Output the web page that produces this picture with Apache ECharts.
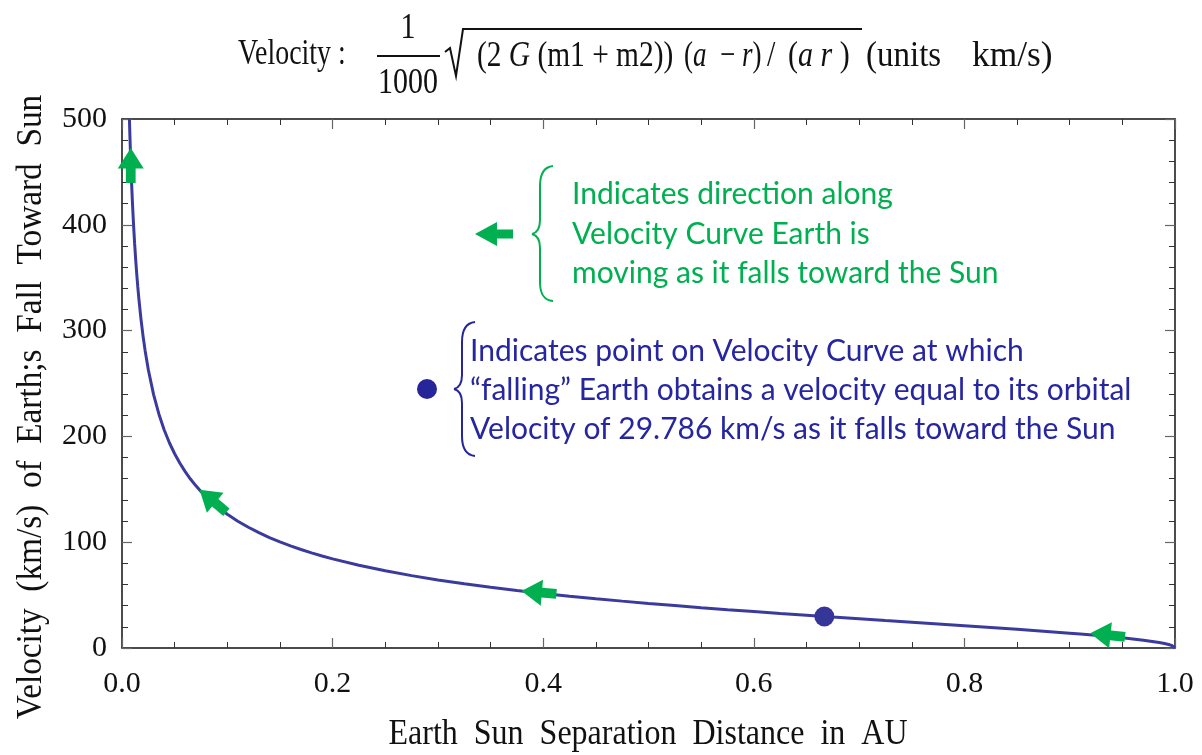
<!DOCTYPE html>
<html>
<head>
<meta charset="utf-8">
<script src="https://cdn.jsdelivr.net/npm/echarts@6/dist/echarts.min.js"></script>
<style>html,body{margin:0;padding:0;background:#fff;}#c{width:1202px;height:755px;}</style>
</head>
<body>
<div id="c"></div>
<script>
// Separation distance r (AU) and velocity (km/s)
const distanceAU = [0.00705,0.0075,0.008,0.0085,0.009,0.010,0.011,0.012,0.013,0.014,0.015,0.016,0.018,0.020,0.022,0.025,0.030,0.035,0.040,0.045,0.050,0.055,0.060,0.065,0.070,0.075,0.080,0.090,0.100,0.110,0.120,0.130,0.140,0.150,0.160,0.170,0.180,0.190,0.200,0.225,0.250,0.275,0.300,0.325,0.350,0.375,0.400,0.425,0.450,0.475,0.500,0.525,0.550,0.575,0.600,0.625,0.650,0.675,0.700,0.725,0.750,0.775,0.800,0.825,0.850,0.875,0.900,0.910,0.930,0.950,0.960,0.970,0.980,0.985,0.990,0.995,0.9975,0.999,1.000];
const velocityKms = [500,484.5,469.0,454.9,442.0,419.1,399.4,382.2,367.0,353.5,341.3,330.3,311.1,294.8,280.8,263.0,239.5,221.2,206.3,194.0,183.6,174.6,166.7,159.7,153.5,147.9,142.8,133.9,126.4,119.8,114.1,109.0,104.4,100.3,96.5,93.1,89.9,87.0,84.2,78.2,73.0,68.4,64.3,60.7,57.4,54.4,51.6,49.0,46.6,44.3,42.1,40.1,38.1,36.2,34.4,32.6,30.9,29.2,27.6,25.9,24.3,22.7,21.1,19.4,17.7,15.9,14.0,13.2,11.6,9.7,8.6,7.4,6.0,5.2,4.2,3.0,2.1,1.3,0];
// Orbital velocity point
const orbitalPoint = [0.667, 29.786];
// Direction arrows along the curve: [r, v, rotation (deg, ccw from up)]
const arrowPoints = [[0.0083,456,0],[0.0864,139,50],[0.396,52.5,85],[0.936,12.3,84]];
const xTicks = [0,0.2,0.4,0.6,0.8,1.0];
const yTicks = [0,100,200,300,400,500];

const GREEN = '#00b050';
const BLUE_TXT = '#2626a0';
const BLUE_MARK = '#26269a';
const CURVE = '#3b3b9e';
const serif = '"Liberation Serif","Times New Roman",serif';
const sans = 'Lato,"Open Sans",sans-serif';

const chart = echarts.init(document.getElementById('c'));
const curve = distanceAU.map((r,i)=>[r, velocityKms[i]]);
const arrowPath = 'path://M12,0 L24,21 L16.5,21 L16.5,36 L7.5,36 L7.5,21 L0,21 Z';

function axisCommon(showLabel, isX) {
  return {
    type: 'value',
    min: isX ? xTicks[0] : yTicks[0],
    max: isX ? xTicks[xTicks.length-1] : yTicks[yTicks.length-1],
    interval: isX ? 0.2 : 100,
    axisLine: {show: true, onZero: false, lineStyle: {color: '#111', width: 1.5}},
    axisTick: {show: true, inside: true, length: 10, lineStyle: {color: '#666', width: 1.2}},
    minorTick: {show: true, splitNumber: isX ? 4 : 5, length: 6, lineStyle: {color: '#333', width: 1}},
    splitLine: {show: false},
    axisLabel: {
      show: showLabel,
      color: '#111',
      fontFamily: serif,
      fontSize: 30,
      margin: isX ? 21 : 15,
      formatter: isX ? (v => v.toFixed(1)) : (v => String(v))
    }
  };
}

function serifText(txt, x, y, size, opts) {
  opts = opts || {};
  return {
    type: 'text', x: x, y: y,
    scaleX: opts.sx || 1, scaleY: opts.sy || 1.2,
    rotation: opts.rot || 0,
    style: {
      text: txt, font: (opts.italic ? 'italic ' : '') + size + 'px ' + serif, fill: '#111',
      align: opts.align || 'left', verticalAlign: 'middle',
      rich: opts.rich
    }
  };
}
const richI = {i: {fontStyle: 'italic', fontFamily: serif, fontSize: 30, fill: '#111'}};

const option = {
  animation: false,
  backgroundColor: '#fff',
  grid: {left: 122, right: 27, top: 119, bottom: 107},
  xAxis: [
    Object.assign(axisCommon(true, true), {position: 'bottom'}),
    Object.assign(axisCommon(false, true), {position: 'top'})
  ],
  yAxis: [
    Object.assign(axisCommon(true, false), {position: 'left'}),
    Object.assign(axisCommon(false, false), {position: 'right'})
  ],
  series: [
    {
      type: 'line',
      data: curve,
      showSymbol: false,
      smooth: false,
      lineStyle: {color: CURVE, width: 3},
      z: 2
    },
    {
      type: 'scatter',
      data: arrowPoints.map(p => ({value: [p[0], p[1]], symbolRotate: p[2]})),
      symbol: arrowPath,
      symbolSize: [26, 35],
      symbolKeepAspect: false,
      itemStyle: {color: GREEN, opacity: 1},
      z: 4
    },
    {
      type: 'scatter',
      data: [orbitalPoint],
      symbol: 'circle',
      symbolSize: 20,
      itemStyle: {color: '#35359a', opacity: 1},
      z: 5
    }
  ],
  graphic: [
    // Title
    serifText('Velocity :', 238, 55, 30, {sx: 0.93}),
    serifText('1', 408, 29, 30, {align: 'center'}),
    {type: 'line', shape: {x1: 377, y1: 56, x2: 440, y2: 56}, style: {stroke: '#111', lineWidth: 2}},
    serifText('1000', 408, 84, 30, {align: 'center'}),
    {type: 'polyline', shape: {points: [[445,52],[450,48],[456,76],[463,29],[862,29]]}, style: {stroke: '#111', lineWidth: 2, fill: null}},
    serifText('(2 {i|G} (m1 + m2))', 477, 57, 30, {sx: 0.98, rich: richI}),
    serifText('({i|a}  \u2212 {i|r})', 684, 57, 30, {sx: 0.9, rich: richI}),
    serifText('/', 767, 57, 30, {}),
    serifText('({i|a} {i|r} )', 788, 57, 30, {sx: 1.0, rich: richI}),
    serifText('(units', 866, 57, 30, {sx: 1.1}),
    serifText('km/s)', 972, 57, 30, {sx: 1.18}),
    // Axis titles
    serifText('Earth  Sun  Separation  Distance  in  AU', 648, 735, 32, {align: 'center', sy: 1.12}),
    serifText('Velocity  (km/s)  of  Earth;s  Fall  Toward  Sun', 32, 407, 32, {align: 'center', sx: 1.04, sy: 1.12, rot: Math.PI/2}),
    // Green legend arrow
    {type: 'polygon', shape: {points: [[475,234],[497,222],[497,229.5],[513,229.5],[513,238.5],[497,238.5],[497,246]]}, style: {fill: GREEN}},
    // Green brace
    {type: 'group', children: [
      {type: 'bezierCurve', shape: {x1: 553, y1: 166, cpx1: 543, cpy1: 167, cpx2: 540, cpy2: 175, x2: 540, y2: 186}, style: {stroke: GREEN, lineWidth: 2, fill: null}},
      {type: 'line', shape: {x1: 540, y1: 186, x2: 540, y2: 220}, style: {stroke: GREEN, lineWidth: 2}},
      {type: 'bezierCurve', shape: {x1: 540, y1: 220, cpx1: 540, cpy1: 229, cpx2: 536, cpy2: 233, x2: 532, y2: 234}, style: {stroke: GREEN, lineWidth: 2, fill: null}},
      {type: 'bezierCurve', shape: {x1: 532, y1: 234, cpx1: 536, cpy1: 235, cpx2: 540, cpy2: 239, x2: 540, y2: 248}, style: {stroke: GREEN, lineWidth: 2, fill: null}},
      {type: 'line', shape: {x1: 540, y1: 248, x2: 540, y2: 282}, style: {stroke: GREEN, lineWidth: 2}},
      {type: 'bezierCurve', shape: {x1: 540, y1: 282, cpx1: 540, cpy1: 293, cpx2: 543, cpy2: 300, x2: 553, y2: 301}, style: {stroke: GREEN, lineWidth: 2, fill: null}}
    ]},
    {type: 'text', x: 572, y: 194, style: {text: 'Indicates direction along', font: '30px ' + sans, fill: GREEN, verticalAlign: 'middle'}},
    {type: 'text', x: 572, y: 234, style: {text: 'Velocity Curve Earth is', font: '30px ' + sans, fill: GREEN, verticalAlign: 'middle'}},
    {type: 'text', x: 572, y: 273, style: {text: 'moving as it falls toward the Sun', font: '30px ' + sans, fill: GREEN, verticalAlign: 'middle'}},
    // Blue legend dot
    {type: 'circle', shape: {cx: 427, cy: 389, r: 10}, style: {fill: BLUE_MARK}},
    // Blue brace
    {type: 'group', children: [
      {type: 'bezierCurve', shape: {x1: 475, y1: 322, cpx1: 465, cpy1: 323, cpx2: 462, cpy2: 331, x2: 462, y2: 342}, style: {stroke: BLUE_MARK, lineWidth: 2, fill: null}},
      {type: 'line', shape: {x1: 462, y1: 342, x2: 462, y2: 375}, style: {stroke: BLUE_MARK, lineWidth: 2}},
      {type: 'bezierCurve', shape: {x1: 462, y1: 375, cpx1: 462, cpy1: 384, cpx2: 458, cpy2: 388, x2: 454, y2: 389}, style: {stroke: BLUE_MARK, lineWidth: 2, fill: null}},
      {type: 'bezierCurve', shape: {x1: 454, y1: 389, cpx1: 458, cpy1: 390, cpx2: 462, cpy2: 394, x2: 462, y2: 403}, style: {stroke: BLUE_MARK, lineWidth: 2, fill: null}},
      {type: 'line', shape: {x1: 462, y1: 403, x2: 462, y2: 436}, style: {stroke: BLUE_MARK, lineWidth: 2}},
      {type: 'bezierCurve', shape: {x1: 462, y1: 436, cpx1: 462, cpy1: 447, cpx2: 465, cpy2: 455, x2: 475, y2: 456}, style: {stroke: BLUE_MARK, lineWidth: 2, fill: null}}
    ]},
    {type: 'text', x: 470, y: 351, style: {text: 'Indicates point on Velocity Curve at which', font: '30px ' + sans, fill: BLUE_TXT, verticalAlign: 'middle'}},
    {type: 'text', x: 470, y: 390, style: {text: '\u201cfalling\u201d Earth obtains a velocity equal to its orbital', font: '30px ' + sans, fill: BLUE_TXT, verticalAlign: 'middle'}},
    {type: 'text', x: 470, y: 429, style: {text: 'Velocity of 29.786 km/s as it falls toward the Sun', font: '30px ' + sans, fill: BLUE_TXT, verticalAlign: 'middle'}}
  ]
};
chart.setOption(option);
</script>
</body>
</html>
